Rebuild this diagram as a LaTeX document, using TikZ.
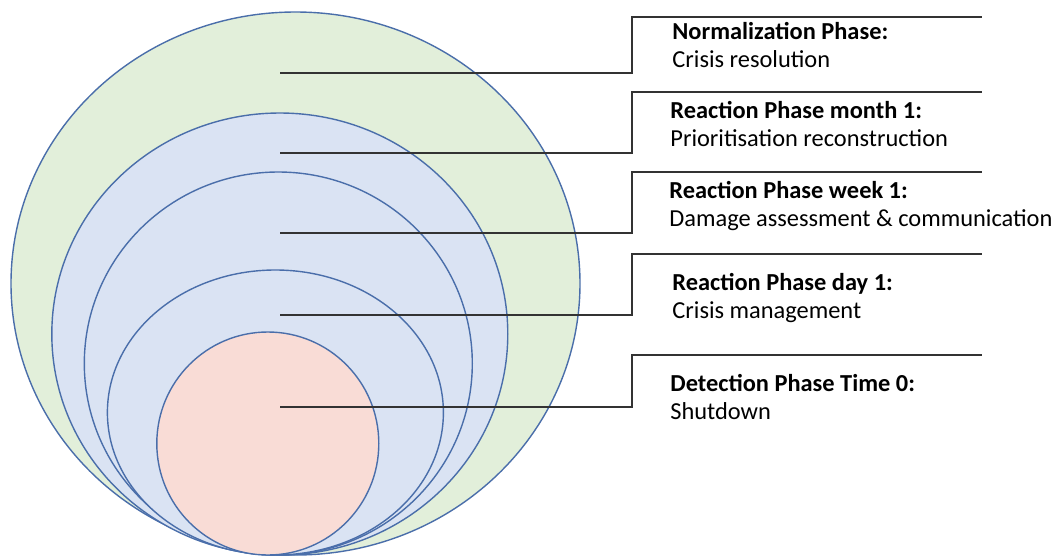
\documentclass[tikz,border=0pt]{standalone}
\usepackage{fontspec}
\setmainfont{Carlito}
\usepackage{xcolor}
\usepackage{tikz}
\definecolor{ringline}{HTML}{4A6EAA}
\definecolor{normfill}{HTML}{E2EFDA}
\definecolor{reactfill}{HTML}{DAE3F3}
\definecolor{detectfill}{HTML}{F9DCD6}

\begin{document}
\begin{tikzpicture}[x=0.5pt,y=-0.5pt,
  ring/.style={draw=ringline,line width=0.7pt},
  leader/.style={draw=black!80,line width=0.6pt},
  phase text/.style={anchor=base west,align=left,inner sep=0pt,
    font=\fontsize{12.2pt}{13.6pt}\selectfont}]
  \useasboundingbox (0,0) rectangle (1057,558);
  % nested phases, largest first
  \draw[ring,fill=normfill] (295.5,283.5) ellipse [x radius=284.5,y radius=271.5];
  \draw[ring,fill=reactfill] (279.8,334) ellipse [x radius=228,y radius=221];
  \draw[ring,fill=reactfill] (278.3,363.5) ellipse [x radius=194,y radius=191.5];
  \draw[ring,fill=reactfill] (275.4,412.5) ellipse [x radius=168,y radius=142.5];
  \draw[ring,fill=detectfill] (267.8,443.5) ellipse [x radius=111,y radius=111.5];
  % leader start points
  \coordinate (norm) at (280,73);
  \coordinate (month) at (280,153);
  \coordinate (week) at (280,233);
  \coordinate (day) at (280,315);
  \coordinate (det) at (280,407);
  \coordinate (norm k) at (632,17);   \coordinate (norm e) at (982,17);
  \coordinate (month k) at (632,92);  \coordinate (month e) at (982,92);
  \coordinate (week k) at (632,172);  \coordinate (week e) at (982,172);
  \coordinate (day k) at (632,254);   \coordinate (day e) at (982,254);
  \coordinate (det k) at (632,355);   \coordinate (det e) at (982,355);
  % labels (placed at the baseline of the second line)
  \node[phase text] (norm t) at (672,67) {\textbf{Normalization Phase:}\\Crisis resolution};
  \node[phase text] (month t) at (670,146) {\textbf{Reaction Phase month 1:}\\Prioritisation reconstruction};
  \node[phase text] (week t) at (669,226) {\textbf{Reaction Phase week 1:}\\Damage assessment \& communication};
  \node[phase text] (day t) at (672,318) {\textbf{Reaction Phase day 1:}\\Crisis management};
  \node[phase text] (det t) at (670,419) {\textbf{Detection Phase Time 0:}\\Shutdown};
  % leaders
  \path[leader] (norm) -| (norm k) -- (norm e);
  \path[leader] (month) -| (month k) -- (month e);
  \path[leader] (week) -| (week k) -- (week e);
  \path[leader] (day) -| (day k) -- (day e);
  \path[leader] (det) -| (det k) -- (det e);
\end{tikzpicture}
\end{document}
